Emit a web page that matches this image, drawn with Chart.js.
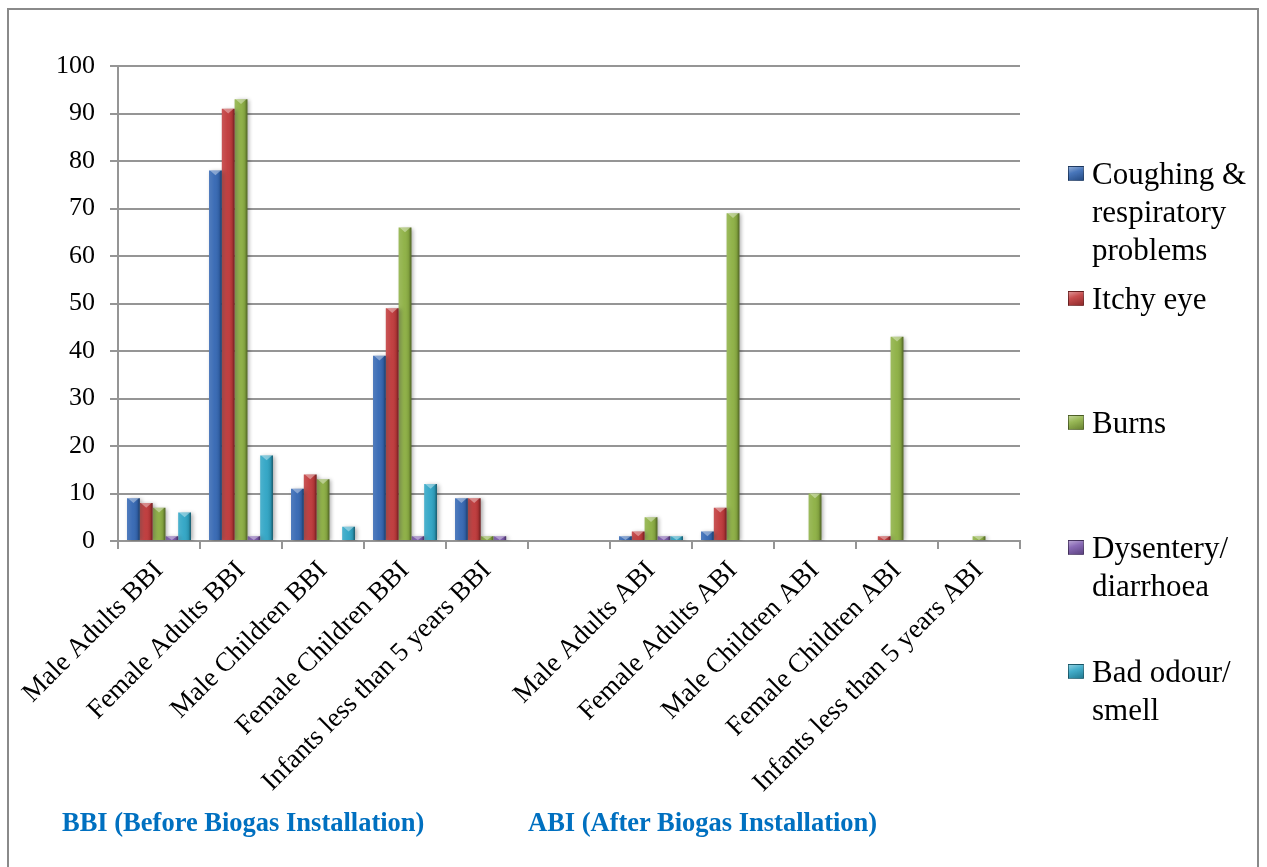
<!DOCTYPE html>
<html>
<head>
<meta charset="utf-8">
<title>Health problems before and after biogas installation</title>
<script src="https://cdn.jsdelivr.net/npm/chart.js@4"></script>
<style>
  html, body { margin: 0; padding: 0; background: #fff; overflow: hidden; }
  #wrap { position: relative; width: 1267px; height: 867px; }
  #frame { position: absolute; left: 7px; top: 8px; width: 1252px; height: 900px;
           border: 2px solid #8a8a8a; box-sizing: border-box; }
  #chart { position: absolute; left: 0; top: 0; }
  .legend-item { position: absolute; left: 1068px; font-family: "Liberation Serif", "Times New Roman", serif;
                 font-size: 31px; line-height: 38px; color: #000; white-space: nowrap; }
  .swatch { position: absolute; left: 0; top: 11px; width: 16px; height: 15px; box-sizing: border-box; }
  .legend-text { position: absolute; left: 24px; top: 0; }
  .note { position: absolute; top: 807px; font-family: "Liberation Serif", "Times New Roman", serif;
          font-weight: bold; font-size: 26.5px; line-height: 30px; color: #0070C0; white-space: nowrap; }
</style>
</head>
<body>
<div id="wrap">
  <div id="frame"></div>
  <canvas id="chart" width="1267" height="867"></canvas>
  <div id="legend"></div>
  <div class="note" style="left:62px">BBI (Before Biogas Installation)</div>
  <div class="note" style="left:528px">ABI (After Biogas Installation)</div>
</div>
<script>
// Population groups, before (BBI) and after (ABI) biogas installation; blank slot separates the two periods
const categories = [
  'Male Adults BBI', 'Female Adults BBI', 'Male Children BBI', 'Female Children BBI', 'Infants less than 5 years BBI',
  '',
  'Male Adults ABI', 'Female Adults ABI', 'Male Children ABI', 'Female Children ABI', 'Infants less than 5 years ABI'
];

// Reported cases per health problem
const coughing  = [9, 78, 11, 39, 9, null, 1, 2, 0, 0, 0];
const itchyEye  = [8, 91, 14, 49, 9, null, 2, 7, 0, 1, 0];
const burns     = [7, 93, 13, 66, 1, null, 5, 69, 10, 43, 1];
const dysentery = [1, 1, 0, 1, 1, null, 1, 0, 0, 0, 0];
const badOdour  = [6, 18, 3, 12, 0, null, 1, 0, 0, 0, 0];

const seriesNames = ['Coughing & respiratory problems', 'Itchy eye', 'Burns', 'Dysentery/ diarrhoea', 'Bad odour/ smell'];
const legendLines = [['Coughing &', 'respiratory', 'problems'], ['Itchy eye'], ['Burns'], ['Dysentery/', 'diarrhoea'], ['Bad odour/', 'smell']];
const yTicks = [0, 10, 20, 30, 40, 50, 60, 70, 80, 90, 100];

const seriesColors = ['#3467b3', '#c0393a', '#8db043', '#7d5aae', '#2fa5c5'];
const seriesValues = [coughing, itchyEye, burns, dysentery, badOdour];

const serif = '"Liberation Serif", "Times New Roman", serif';
const axisGrey = '#959595';

// Bevelled look for each bar: side shading plus a light top facet
const bevel = {
  id: 'bevel',
  beforeDatasetsDraw(chart) {
    const c = chart.ctx;
    c.save();
    c.shadowColor = 'rgba(0,0,0,0.32)';
    c.shadowBlur = 4;
    c.shadowOffsetX = 2;
    c.shadowOffsetY = 1;
  },
  afterDatasetsDraw(chart) {
    const c = chart.ctx;
    c.restore();
    c.save();
    chart.data.datasets.forEach((ds, i) => {
      chart.getDatasetMeta(i).data.forEach(bar => {
        const { x, y, base, width } = bar.getProps(['x', 'y', 'base', 'width'], true);
        const h = base - y;
        if (!(h > 0.5)) return;
        const l = x - width / 2;
        const g = c.createLinearGradient(l, 0, l + width, 0);
        g.addColorStop(0, 'rgba(255,255,255,0.14)');
        g.addColorStop(0.45, 'rgba(255,255,255,0.04)');
        g.addColorStop(0.8, 'rgba(0,0,0,0.10)');
        g.addColorStop(1, 'rgba(0,0,0,0.45)');
        c.fillStyle = g;
        c.fillRect(l, y, width, h);
        const th = Math.min(width * 0.38, h);
        c.beginPath();
        c.moveTo(l + 1, y);
        c.lineTo(l + width - 1, y);
        c.lineTo(x, y + th);
        c.closePath();
        c.fillStyle = 'rgba(255,255,255,0.38)';
        c.fill();
      });
    });
    c.restore();
  }
};

new Chart(document.getElementById('chart'), {
  type: 'bar',
  data: {
    labels: categories,
    datasets: seriesValues.map((vals, i) => ({
      label: seriesNames[i],
      data: vals,
      backgroundColor: seriesColors[i],
      borderWidth: 0,
      categoryPercentage: 0.78,
      barPercentage: 1.0
    }))
  },
  options: {
    responsive: false,
    animation: false,
    devicePixelRatio: 1,
    layout: { padding: { left: 18, right: 247, top: 66, bottom: 0 } },
    plugins: { legend: { display: false }, tooltip: { enabled: false } },
    scales: {
      x: {
        grid: { display: true, drawOnChartArea: false, drawTicks: true, tickLength: 8,
                offset: true, color: axisGrey, lineWidth: 2 },
        border: { display: true, color: axisGrey, width: 2 },
        ticks: { autoSkip: false, minRotation: 45, maxRotation: 45, padding: 6,
                 color: '#000', font: { family: serif, size: 27 } },
        afterFit(scale) { scale.height = 326; }
      },
      y: {
        min: 0, max: 100,
        afterBuildTicks(scale) { scale.ticks = yTicks.map(v => ({ value: v })); },
        grid: { color: axisGrey, lineWidth: 2, drawTicks: true, tickLength: 8 },
        border: { display: true, color: axisGrey, width: 2 },
        ticks: { padding: 15, color: '#000', font: { family: serif, size: 26 } },
        afterFit(scale) { scale.width = 100; }
      }
    }
  },
  plugins: [bevel]
});

// Legend at the right, one entry per series
const legend = document.getElementById('legend');
legendLines.forEach((lines, i) => {
  const item = document.createElement('div');
  item.className = 'legend-item';
  item.style.top = (155 + i * 124.5) + 'px';
  const sw = document.createElement('div');
  sw.className = 'swatch';
  const col = seriesColors[i];
  sw.style.background = `linear-gradient(160deg, rgba(255,255,255,0.45) 0%, rgba(255,255,255,0.1) 40%, rgba(0,0,0,0.25) 100%), ${col}`;
  sw.style.border = '1px solid rgba(0,0,0,0.35)';
  const tx = document.createElement('div');
  tx.className = 'legend-text';
  lines.forEach((ln, k) => {
    if (k) tx.appendChild(document.createElement('br'));
    tx.appendChild(document.createTextNode(ln));
  });
  item.appendChild(sw);
  item.appendChild(tx);
  legend.appendChild(item);
});
</script>
</body>
</html>
